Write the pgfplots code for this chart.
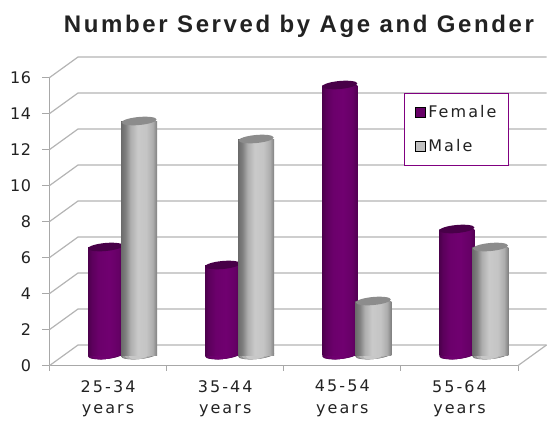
\documentclass[border=0pt]{standalone}
\usepackage{pgfplots}
\pgfplotsset{compat=1.18}
\usepackage{fontspec}
\setmainfont{DejaVu Sans}
\newfontfamily\lblfont[LetterSpace=3]{DejaVu Sans}
\newfontfamily\xlblfont[LetterSpace=13]{DejaVu Sans}
\newfontfamily\legfont[LetterSpace=13]{DejaVu Sans}
\newfontfamily\ttlfont[LetterSpace=11]{Liberation Sans}
\definecolor{gridc}{HTML}{B4B4B4}
\definecolor{axisc}{HTML}{A8A8A8}
\definecolor{txt}{HTML}{222222}
\definecolor{femc}{HTML}{660066}
\definecolor{femtop}{HTML}{480048}
\definecolor{malec}{HTML}{C0C0C0}
\definecolor{maletop}{HTML}{8C8C8C}
\definecolor{legb}{HTML}{800080}
\pgfdeclarehorizontalshading{femaleshade}{100bp}{
 rgb(0bp)=(0.30,0,0.30);
 rgb(25bp)=(0.30,0,0.30);
 rgb(30bp)=(0.36,0,0.36);
 rgb(40bp)=(0.42,0,0.42);
 rgb(55bp)=(0.44,0,0.44);
 rgb(68bp)=(0.40,0,0.40);
 rgb(75bp)=(0.32,0,0.32);
 rgb(100bp)=(0.32,0,0.32)}
\pgfdeclarehorizontalshading{maleshade}{100bp}{
 rgb(0bp)=(0.42,0.42,0.42);
 rgb(25bp)=(0.42,0.42,0.42);
 rgb(31bp)=(0.50,0.50,0.50);
 rgb(38bp)=(0.68,0.68,0.68);
 rgb(48bp)=(0.79,0.79,0.79);
 rgb(60bp)=(0.77,0.77,0.77);
 rgb(69bp)=(0.68,0.68,0.68);
 rgb(75bp)=(0.50,0.50,0.50);
 rgb(100bp)=(0.50,0.50,0.50)}
\newcommand\capell[2]{\pgfpathellipse{\pgfpointorigin}{\pgfpoint{#1pt}{1.6pt}}{\pgfpoint{-0.4pt}{4pt}}\pgfsetfillcolor{#2}\pgfusepath{fill}}
\definecolor{fa}{rgb}{0.31,0,0.31}
\definecolor{fb}{rgb}{0.38,0,0.38}
\definecolor{fc}{rgb}{0.42,0,0.42}
\definecolor{fd}{rgb}{0.44,0,0.44}
\definecolor{ma}{rgb}{0.46,0.46,0.46}
\definecolor{mb}{rgb}{0.58,0.58,0.58}
\definecolor{mc}{rgb}{0.70,0.70,0.70}
\definecolor{md}{rgb}{0.78,0.78,0.78}
\pgfdeclareplotmark{topcap}{%
 \pgfpathellipse{\pgfpointorigin}{\pgfpoint{17.5pt}{1.6pt}}{\pgfpoint{-0.4pt}{4pt}}%
 \pgfusepathqfill}
\pgfdeclareplotmark{botF}{\capell{17.5}{fa}\capell{16}{fb}\capell{13}{fc}\capell{8}{fd}}
\pgfdeclareplotmark{botM}{\capell{18}{ma}\capell{16.5}{mb}\capell{14}{mc}\capell{10}{md}}
\begin{document}
\begin{tikzpicture}[x=1pt,y=1pt]
\path[use as bounding box] (0,0) rectangle (547,421);
\node[font=\fontsize{24}{27}\selectfont\ttlfont\bfseries,text=txt,anchor=base] at (299,388) {Number Served by Age and Gender};
\begin{axis}[
 at={(49.5pt,55.4pt)},anchor=south west,
 scale only axis,width=468.5pt,height=288pt,
 xmin=0,xmax=4,ymin=0,ymax=16,clip=false,clip marker paths=true,
 axis x line*=bottom,axis y line*=left,
 axis line style={-,color=axisc,line width=1.2pt},
 ytick={0,2,...,16},
 xtick={0.5,1.5,2.5,3.5},
 xticklabels={{25-34\\years},{35-44\\years},{45-54\\years},{55-64\\years}},
 minor xtick={0,1,2,3,4},
 major x tick style={draw=none},
 minor tick length=5pt,
 major tick length=7pt,
 tick style={color=axisc,line width=0.9pt},
 tick align=outside,
 /pgf/number format/assume math mode=true,
 yticklabel style={font=\fontsize{16}{18}\selectfont\lblfont,text=txt,xshift=-8pt},
 xticklabel style={font=\fontsize{16}{21.5}\selectfont\xlblfont,text=txt,align=center,yshift=-6.5pt,inner ysep=1pt},
 legend cell align=left,
 legend style={at={(354.5pt,273pt)},anchor=north west,draw=legb,
   line width=1.2pt,font=\fontsize{16}{18}\selectfont\legfont,text=txt,
   inner xsep=10pt,inner ysep=10.5pt,row sep=16pt},
 legend image code/.code={\fill[#1] (0pt,-5pt) rectangle (10.5pt,5pt);},
]
% back wall grid lines and floor edge
\addplot[forget plot,gridc,line width=1.2pt] coordinates {(0,0) (0.2434,1.144) (4.2434,1.144)};
\addplot[forget plot,gridc,line width=1.2pt] coordinates {(0,2) (0.2434,3.144) (4.2434,3.144)};
\addplot[forget plot,gridc,line width=1.2pt] coordinates {(0,4) (0.2434,5.144) (4.2434,5.144)};
\addplot[forget plot,gridc,line width=1.2pt] coordinates {(0,6) (0.2434,7.144) (4.2434,7.144)};
\addplot[forget plot,gridc,line width=1.2pt] coordinates {(0,8) (0.2434,9.144) (4.2434,9.144)};
\addplot[forget plot,gridc,line width=1.2pt] coordinates {(0,10) (0.2434,11.144) (4.2434,11.144)};
\addplot[forget plot,gridc,line width=1.2pt] coordinates {(0,12) (0.2434,13.144) (4.2434,13.144)};
\addplot[forget plot,gridc,line width=1.2pt] coordinates {(0,14) (0.2434,15.144) (4.2434,15.144)};
\addplot[forget plot,gridc,line width=1.2pt] coordinates {(0,16) (0.2434,17.144) (4.2434,17.144)};
\addplot[forget plot,gridc,line width=1.2pt] coordinates {(4,0) (4.2434,1.144)};
% Female
\addplot[forget plot,only marks,mark=botF,xshift=-2.5pt,yshift=10.6pt] coordinates {(0.5,0) (1.5,0) (2.5,0) (3.5,0)};
\pgfplotsset{fbar/.style={forget plot,ybar,bar width=35pt,bar shift=-2.5pt,yshift=10.6pt,draw=none,shade,shading=femaleshade},
 mbar/.style={forget plot,ybar,bar width=36pt,bar shift=31pt,yshift=10.6pt,draw=none,shade,shading=maleshade}}
\addplot[fbar] coordinates {(0.5,6)};
\addplot[fbar] coordinates {(1.5,5)};
\addplot[fbar] coordinates {(2.5,15)};
\addplot[fbar] coordinates {(3.5,7)};
\addplot[forget plot,only marks,mark=topcap,color=femtop,xshift=-2.5pt,yshift=10.6pt] coordinates {(0.5,6) (1.5,5) (2.5,15) (3.5,7)};
% Male
\addplot[forget plot,only marks,mark=botM,xshift=31pt,yshift=10.6pt] coordinates {(0.5,0) (1.5,0) (2.5,0) (3.5,0)};
\addplot[mbar] coordinates {(0.5,13)};
\addplot[mbar] coordinates {(1.5,12)};
\addplot[mbar] coordinates {(2.5,3)};
\addplot[mbar] coordinates {(3.5,6)};
\addplot[forget plot,only marks,mark=topcap,color=maletop,xshift=31pt,yshift=10.6pt] coordinates {(0.5,13) (1.5,12) (2.5,3) (3.5,6)};
\addlegendimage{fill=femc}
\addlegendentry{Female}
\addlegendimage{fill=malec}
\addlegendentry{Male}
\end{axis}
\end{tikzpicture}
\end{document}
